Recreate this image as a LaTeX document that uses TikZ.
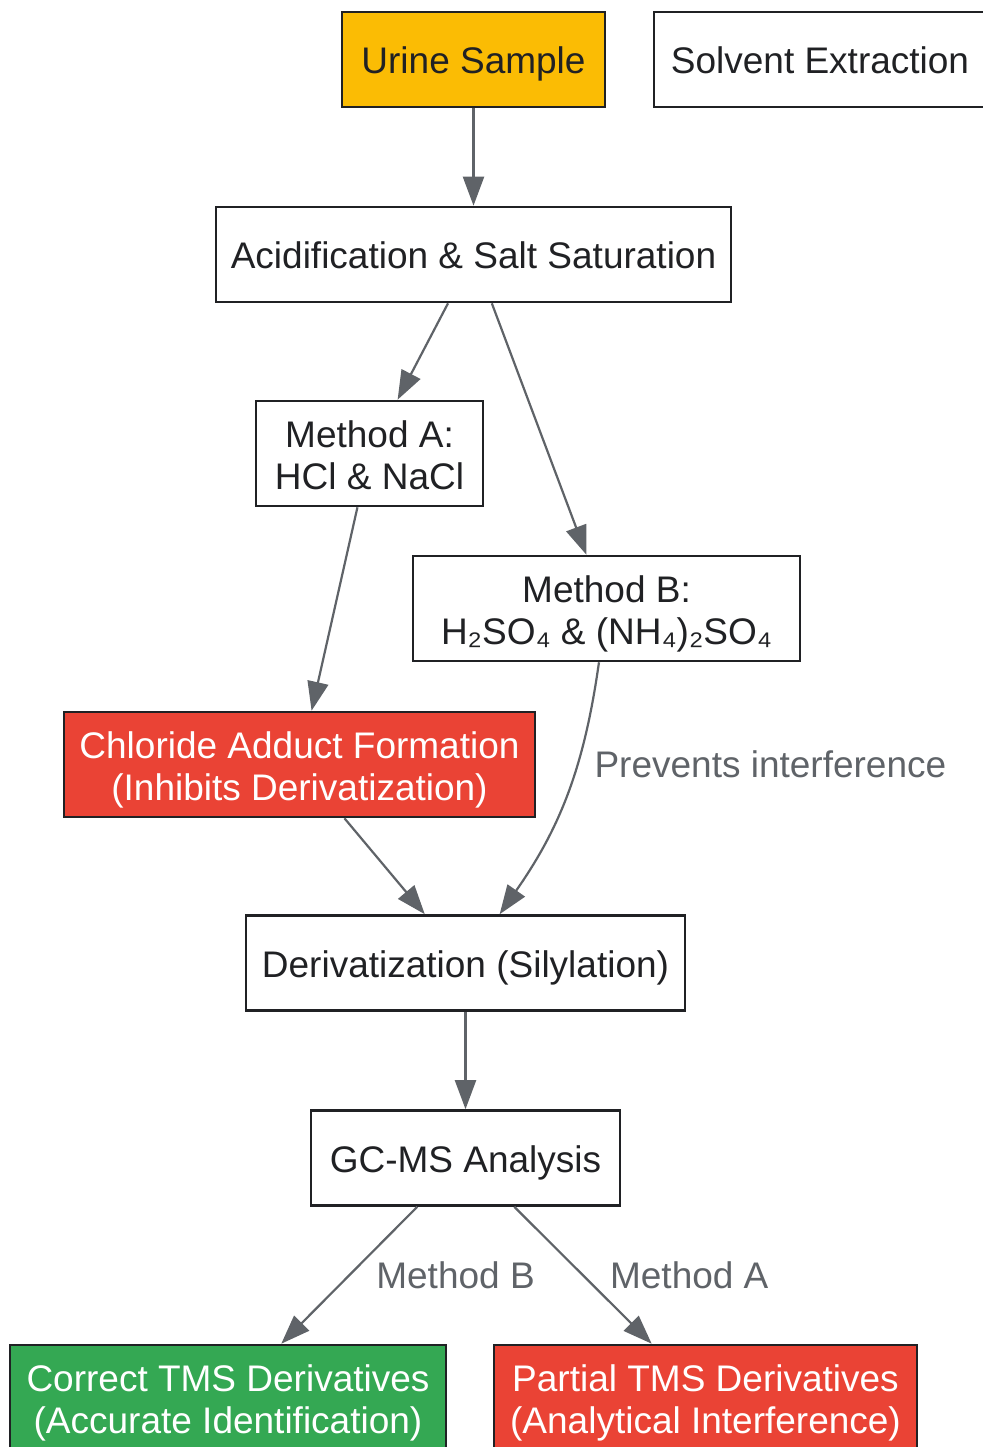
\documentclass[tikz,border=0pt]{standalone}
\usepackage{fontspec}
\setmainfont{Liberation Sans}
\usetikzlibrary{positioning, arrows.meta}

\definecolor{edgegray}{HTML}{5F6368}
\definecolor{inkdark}{HTML}{202124}
\definecolor{urineyellow}{HTML}{FBBC04}
\definecolor{alertred}{HTML}{EA4335}
\definecolor{okgreen}{HTML}{34A853}

\begin{document}
\begin{tikzpicture}
  [
  on grid, >={Triangle[length=29pt,width=21pt]},
  font=\fontsize{37}{42}\selectfont,
  box/.style={draw=inkdark, line width=2.6pt, text=inkdark, align=center,
              minimum height=95pt, inner xsep=14pt, inner ysep=17pt,
              text height=29pt, text depth=0pt},
  two line/.style={text height=71pt, text depth=0pt},
  yellow box/.style={box, fill=urineyellow},
  red box/.style={box, two line, fill=alertred, text=white},
  green box/.style={box, two line, fill=okgreen, text=white},
  pre/.style={<-, draw=edgegray, line width=2.2pt},
  lbl/.style={text=edgegray, anchor=west, xshift=26pt, inner sep=0pt}
  ]
  \useasboundingbox (0,0) rectangle (982pt,-1447pt);

  \node[yellow box, minimum width=263pt] (urine)   at (473.5pt,-59.5pt)                 {Urine Sample};
  \node[box, minimum width=332pt]        (solvent) [right=346.5pt of urine]             {Solvent Extraction};
  \node[box, minimum width=515pt]        (acid)    [below=195pt of urine]               {Acidification \& Salt Saturation}
    edge [pre]                                  (urine);
  \node[box, two line, minimum width=227pt] (methA) [below=199pt of acid, xshift=-104pt] {Method A:\\HCl \& NaCl}
    edge [pre]                                  (acid);
  \node[box, two line, minimum width=387pt] (methB) [below=354pt of acid, xshift=133pt]  {Method B:\\H₂SO₄ \& (NH₄)₂SO₄}
    edge [pre]                                  (acid);
  \node[red box, minimum width=471pt]    (chlor)   [below=311pt of methA, xshift=-70pt] {Chloride Adduct Formation\\(Inhibits Derivatization)}
    edge [pre]                                  (methA);
  \node[box, minimum width=439pt]        (deriv)   [below=198.5pt of chlor, xshift=166pt] {Derivatization (Silylation)}
    edge [pre]                                  (chlor)
    edge [pre, out=55, in=-98] node[lbl, pos=0.63, xshift=-10pt] {Prevents interference} (methB);
  \node[box, minimum width=309pt]        (gcms)    [below=195pt of deriv]               {GC-MS Analysis}
    edge [pre]                                  (deriv);
  \node[green box, minimum width=436pt]  (correct) [below=239.5pt of gcms, xshift=-237.5pt] {Correct TMS Derivatives\\(Accurate Identification)}
    edge [pre] node[lbl, midway] {Method B}     (gcms);
  \node[red box, minimum width=423pt]    (partial) [below=239.5pt of gcms, xshift=240pt] {Partial TMS Derivatives\\(Analytical Interference)}
    edge [pre] node[lbl, midway] {Method A}     (gcms);
\end{tikzpicture}
\end{document}
